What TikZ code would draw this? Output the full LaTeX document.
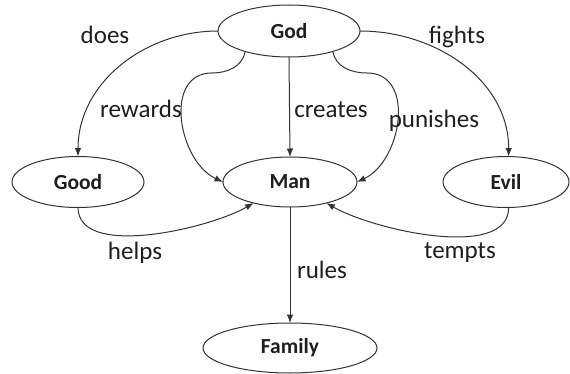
\documentclass[tikz,border=0pt]{standalone}
\usepackage{fontspec}
\setmainfont{Carlito}
\usetikzlibrary{arrows.meta, shapes.geometric}
\definecolor{ink}{HTML}{1E1E1E}
\definecolor{line}{HTML}{333333}
\tikzset{
  concept/.style={ellipse, draw=line, line width=1pt, fill=white, text=ink,
    font=\fontsize{21.5}{24}\selectfont\bfseries, inner sep=0pt, outer sep=0pt},
  arrow/.style={-{Latex[length=8.5pt, width=6.5pt]}, draw=line, line width=1pt},
  lbl/.style={font=\fontsize{25}{28}\selectfont, text=ink, anchor=base, inner sep=0pt}
}
\begin{document}
\begin{tikzpicture}[x=1pt,y=1pt]
\useasboundingbox (0,0) rectangle (570,373);

% Concepts
\node[concept, minimum width=142pt, minimum height=52pt] (god) at (289,342) {God};
\node[concept, minimum width=132pt, minimum height=51pt] (good) at (78,191) {Good};
\node[concept, minimum width=134pt, minimum height=50pt] (man) at (290,191) {Man};
\node[concept, minimum width=126pt, minimum height=51pt] (evil) at (506,191) {Evil};
\node[concept, minimum width=174pt, minimum height=50pt] (family) at (290,25) {Family};

% Bends of the two side links
\coordinate (rbend) at (212,300);
\coordinate (pbend) at (367,300);

% Links
\draw[arrow] (god.west) to[out=180, in=90] (good.north);
\draw[arrow] (god.east) to[out=0, in=90] (evil.84);
\draw[arrow] (god.south) -- (man.north);
\draw[arrow] (man.south) -- (family.north);
\draw[arrow] (god.205) to[out=-100, in=0] (rbend) to[out=180, in=155, looseness=1.15] (man.west);
\draw[arrow] (god.-25) to[out=-80, in=180] (pbend) to[out=0, in=25, looseness=1.15] (man.east);
\draw[arrow] (good.south) to[out=-90, in=-150, looseness=0.75] (man.210);
\draw[arrow] (evil.-84) to[out=-90, in=-30, looseness=0.75] (man.-30);

% Link labels
\node[lbl] (ldoes) at (105,329) {does};
\node[lbl] (lfights) at (457,329) {fights};
\node[lbl] (lrewards) at (141,255) {rewards};
\node[lbl] (lcreates) at (331,256) {creates};
\node[lbl] (lpunishes) at (434,246) {punishes};
\node[lbl] (lhelps) at (135,114) {helps};
\node[lbl] (ltempts) at (460,115) {tempts};
\node[lbl] (lrules) at (322,95) {rules};

\end{tikzpicture}
\end{document}
